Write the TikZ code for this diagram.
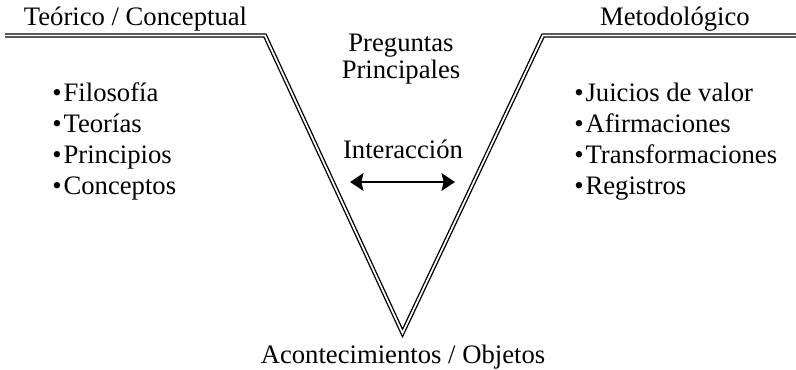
\documentclass[tikz,border=0pt]{standalone}
\usepackage{fontspec}
\setmainfont{Liberation Serif}
\usetikzlibrary{arrows.meta}

\tikzset{
  vline/.style={double, line width=1pt, double distance=1.3pt, line join=miter},
  label/.style={inner sep=0pt, font=\fontsize{20}{24}\selectfont},
  item/.style={label, anchor=base west}
}

\begin{document}
\begin{tikzpicture}[x=0.75pt, y=-0.75pt]
\useasboundingbox (0,0) rectangle (796,369);

% the V
\coordinate (lstart) at (5,35.5);
\coordinate (lcorner) at (265,35.5);
\coordinate (tip) at (402.5,333);
\coordinate (rcorner) at (543,35.5);
\coordinate (rend) at (800,35.5);
\draw[vline] (lstart)--(lcorner)--(tip)--(rcorner)--(rend);

\node[label, anchor=base] (teorico) at (135.5,25) {Teórico / Conceptual};
\node[label, anchor=base] (metodo) at (675,25) {Metodológico};
\node[label, anchor=base] (preg) at (401,51) {Preguntas};
\node[label, anchor=base] (princ) at (401,78) {Principales};
\node[label, anchor=base] (inter) at (403,158) {Interacción};
\node[label, anchor=base] (acont) at (403,363) {Acontecimientos / Objetos};

% lists
\foreach \t [count=\i] in {Filosofía,Teorías,Principios,Conceptos}
  \node[item] (left\i) at (52,{101+31*(\i-1)}) {\textbullet\kern1.5pt\t};
\foreach \t [count=\i] in {Juicios de valor,Afirmaciones,Transformaciones,Registros}
  \node[item] (right\i) at (574,{101+31*(\i-1)}) {\textbullet\kern1.5pt\t};

\coordinate (aleft) at (350,182);
\coordinate (aright) at (455,182);
\draw[<->, line width=2.2pt, >={Stealth[length=10pt,width=13pt,inset=1.5pt]}] (aleft)--(aright);
\end{tikzpicture}
\end{document}
